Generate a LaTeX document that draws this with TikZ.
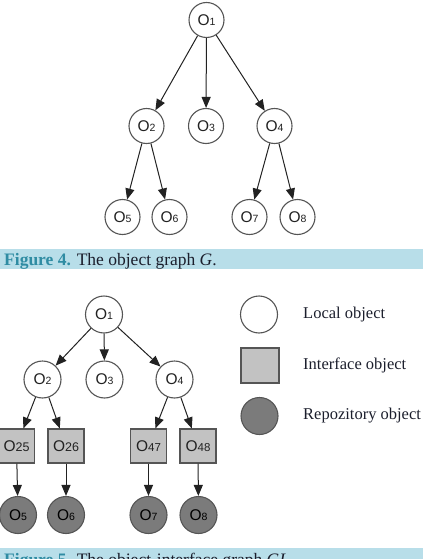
\documentclass[tikz,border=0pt]{standalone}
\usepackage{fontspec}
\setmainfont{Liberation Serif}
\newfontfamily\nodefont{Liberation Sans}
\usetikzlibrary{arrows.meta}
\definecolor{capbar}{HTML}{B8DEE9}
\definecolor{capfig}{HTML}{2F8CA3}
\definecolor{captext}{HTML}{1B1E2C}
\definecolor{edgecol}{HTML}{222222}
\definecolor{outl}{HTML}{555555}
\definecolor{ifill}{HTML}{C2C2C2}
\definecolor{rfill}{HTML}{7B7B7B}
\newcommand{\olab}[1]{O{\fontsize{10.5}{10.5}\selectfont #1}}
\tikzset{
  lnode/.style={circle, draw=outl, line width=1.1pt, fill=white, minimum size=35pt, inner sep=0pt, font=\nodefont\fontsize{15.5}{15.5}\selectfont, text=edgecol},
  lnodeb/.style={lnode, minimum size=37pt},
  inode/.style={rectangle, draw=outl, line width=1.1pt, fill=ifill, minimum width=36pt, minimum height=34pt, inner sep=0pt, font=\nodefont\fontsize{15.5}{15.5}\selectfont, text=edgecol},
  rnode/.style={lnodeb, fill=rfill, text=black},
  arr/.style={draw=edgecol, line width=1pt, -{Triangle[length=11pt,width=9pt]}},
  legtext/.style={anchor=west, font=\fontsize{16.5}{16.5}\selectfont, text=captext, inner sep=0pt},
  captxt/.style={anchor=base west, font=\fontsize{17.5}{17.5}\selectfont, text=captext, inner sep=0pt}
}
\begin{document}
\begin{tikzpicture}[x=1pt,y=-1pt]
\useasboundingbox (0,0) rectangle (429,559);
\clip (0,0) rectangle (429,559);
% Figure 4
\node[lnode] (a1) at (206.5,20) {\olab{1}};
\node[lnode] (a2) at (146.5,126) {\olab{2}};
\node[lnode] (a3) at (206,126) {\olab{3}};
\node[lnode] (a4) at (274.5,126) {\olab{4}};
\node[lnode] (a5) at (122.5,217) {\olab{5}};
\node[lnode] (a6) at (169.5,217) {\olab{6}};
\node[lnode] (a7) at (249.5,217) {\olab{7}};
\node[lnode] (a8) at (297.5,217) {\olab{8}};
\draw[arr] (a1) -- (a2);
\draw[arr] (a1) -- (a3);
\draw[arr] (a1) -- (a4);
\draw[arr] (a2) -- (a5);
\draw[arr] (a2) -- (a6);
\draw[arr] (a4) -- (a7);
\draw[arr] (a4) -- (a8);
\fill[capbar] (0,249) rectangle (423,269);
\node[captxt] (cap4) at (4,265) {{\bfseries\color{capfig}Figure 4.} The object graph \textit{G}.};
% Figure 5
\node[lnodeb] (b1) at (104,314.5) {\olab{1}};
\node[lnodeb] (b2) at (42.5,379.5) {\olab{2}};
\node[lnodeb] (b3) at (104.5,379.5) {\olab{3}};
\node[lnodeb] (b4) at (174.5,379.5) {\olab{4}};
\node[inode] (b25) at (16.5,446) {O{\fontsize{12.5}{12.5}\selectfont 25}};
\node[inode] (b26) at (66,446) {O{\fontsize{12.5}{12.5}\selectfont 26}};
\node[inode] (b47) at (148.5,446) {O{\fontsize{11.5}{11.5}\selectfont 47}};
\node[inode] (b48) at (198,446) {O{\fontsize{11.5}{11.5}\selectfont 48}};
\node[rnode] (b5) at (18,515) {\olab{5}};
\node[rnode] (b6) at (66,515) {\olab{6}};
\node[rnode] (b7) at (148.5,515) {\olab{7}};
\node[rnode] (b8) at (198.5,515) {\olab{8}};
\draw[arr] (b1) -- (b2);
\draw[arr] (b1) -- (b3);
\draw[arr] (b1) -- (b4);
\draw[arr] (b2) -- (b25);
\draw[arr] (b2) -- (b26);
\draw[arr] (b4) -- (b47);
\draw[arr] (b4) -- (b48);
\draw[arr] (b25) -- (b5);
\draw[arr] (b26) -- (b6);
\draw[arr] (b47) -- (b7);
\draw[arr] (b48) -- (b8);
% Legend
\node[lnodeb] (l1) at (259,314.5) {};
\node[inode, minimum width=38pt, minimum height=35pt] (l2) at (260,365.5) {};
\node[rnode] (l3) at (259.5,416) {};
\node[legtext] (t1) at (303,314.5) {Local object};
\node[legtext] (t2) at (303,365.5) {Interface object};
\node[legtext] (t3) at (303,416) {Repozitory object};
\fill[capbar] (0,548) rectangle (423,570);
\node[captxt] (cap5) at (4,565) {{\bfseries\color{capfig}Figure 5.} The object-interface graph \textit{GI}.};
\end{tikzpicture}
\end{document}
